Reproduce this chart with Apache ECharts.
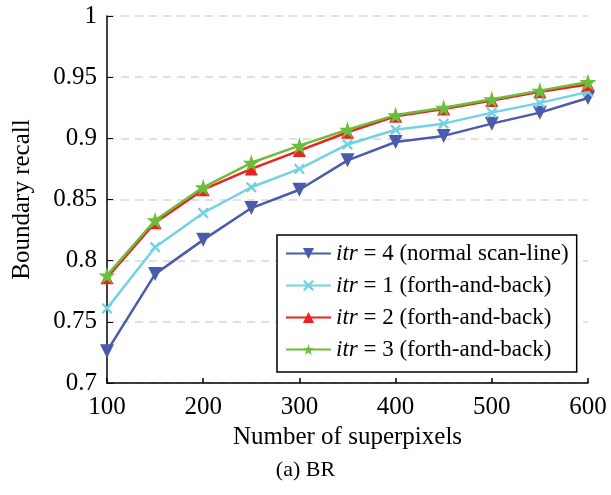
<!DOCTYPE html>
<html><head><meta charset="utf-8">
<script src="https://cdn.jsdelivr.net/npm/echarts@6/dist/echarts.min.js"></script>
<style>html,body{margin:0;padding:0;background:#fff}#c{width:611px;height:495px}</style>
</head><body><div id="c"></div>
<script>
const categories = [100,150,200,250,300,350,400,450,500,550,600];
const itr4 = [0.726,0.789,0.817,0.843,0.858,0.882,0.897,0.902,0.912,0.921,0.933];
const itr1 = [0.761,0.811,0.839,0.860,0.875,0.895,0.907,0.912,0.921,0.929,0.938];
const itr2 = [0.786,0.831,0.858,0.875,0.890,0.905,0.918,0.924,0.931,0.938,0.944];
const itr3 = [0.788,0.833,0.860,0.880,0.894,0.907,0.919,0.925,0.932,0.939,0.946];
const seriesNames = ['itr = 4 (normal scan-line)','itr = 1 (forth-and-back)','itr = 2 (forth-and-back)','itr = 3 (forth-and-back)'];
const yTicks = ['0.7','0.75','0.8','0.85','0.9','0.95','1'];

const F = '"Liberation Serif","Times New Roman",serif';
const crossPath = 'path://M0,1.5L1.5,0L5,3.5L8.5,0L10,1.5L6.5,5L10,8.5L8.5,10L5,6.5L1.5,10L0,8.5L3.5,5Z';
const starPath = 'path://M50,0L61,35L98,35L68,57L79,91L50,70L21,91L32,57L2,35L39,35Z';
const colors = ['#4b5bab','#72d2e2','#ee2020','#6cbd3c'];

function mk(i, data, sym, size, rot){
  return {
    name: seriesNames[i], type:'line',
    data: categories.map((c,k)=>[c,data[k]]),
    symbol: sym, symbolSize: size, symbolRotate: rot||0,
    lineStyle:{color:colors[i], width:2.5},
    itemStyle:{color:colors[i]},
    z: 2+i
  };
}
const chart = echarts.init(document.getElementById('c'));
chart.setOption({
  animation:false,
  backgroundColor:'#fff',
  grid:{left:107,right:23,top:16,bottom:112},
  xAxis:{type:'value',min:100,max:600,interval:100,
    axisLine:{lineStyle:{color:'#000',width:1.5}},
    axisTick:{inside:true,length:5,lineStyle:{color:'#000',width:1.5}},
    axisLabel:{color:'#000',fontFamily:F,fontSize:25,margin:12},
    splitLine:{show:false},
    name:'Number of superpixels',nameLocation:'middle',nameGap:42,
    nameTextStyle:{color:'#000',fontFamily:F,fontSize:25}},
  yAxis:{type:'value',min:0.7,max:1,interval:0.05,
    axisLine:{show:true,lineStyle:{color:'#000',width:1.5}},
    axisTick:{show:true,inside:true,length:6,lineStyle:{color:'#000',width:1}},
    axisLabel:{color:'#000',fontFamily:F,fontSize:25,margin:10,
      formatter:(v)=>yTicks[Math.round((v-0.7)/0.05)]},
    splitLine:{show:true,lineStyle:{color:'#d8d8d8',type:[8,6],width:1.5}},
    name:'Boundary recall',nameLocation:'middle',nameGap:72,
    nameTextStyle:{color:'#000',fontFamily:F,fontSize:25}},
  legend:{
    left:277, top:235, orient:'vertical',
    backgroundColor:'#fff', borderColor:'#000', borderWidth:1.5,
    padding:[7,8,11,8], itemGap:9, itemWidth:45, itemHeight:14,
    textStyle:{color:'#000',fontFamily:F,fontSize:23,lineHeight:23,
      rich:{i:{fontStyle:'italic',fontFamily:F,fontSize:23,lineHeight:23,color:'#000'}}},
    formatter:(n)=>n.replace(/^itr/,'{i|itr}'),
    data:seriesNames
  },
  graphic:[{type:'text',left:'center',top:459,style:{text:'(a) BR',fontFamily:F,fontSize:22,fill:'#000'}}],
  series:[
    mk(0,itr4,'triangle',14,180),
    mk(1,itr1,crossPath,11),
    mk(2,itr2,'triangle',13),
    mk(3,itr3,starPath,17)
  ]
});
</script></body></html>
